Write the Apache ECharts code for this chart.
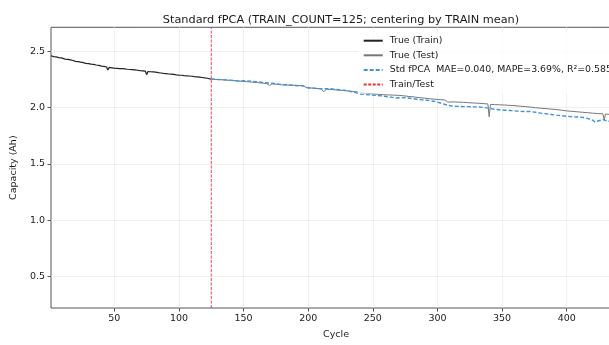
<!DOCTYPE html>
<html>
<head>
<meta charset="utf-8">
<script src="https://cdn.jsdelivr.net/npm/echarts@6/dist/echarts.min.js"></script>
<style>html,body{margin:0;padding:0;background:#fff;overflow:hidden;width:609px;height:345px}#c{width:640px;height:345px}</style>
</head>
<body>
<div id="c"></div>
<script>
const TITLE = 'Standard fPCA (TRAIN_COUNT=125; centering by TRAIN mean)';
const TRAIN_COUNT = 125;
const X_MIN = 1, X_MAX = 442;
const Y_MIN = 0.22, Y_MAX = 2.715;
const X_TICKS = [50, 100, 150, 200, 250, 300, 350, 400];
const Y_TICKS = [0.5, 1.0, 1.5, 2.0, 2.5];
const NAME_TRAIN = 'True (Train)';
const NAME_TEST = 'True (Test)';
const NAME_PRED = 'Std fPCA  MAE=0.040, MAPE=3.69%, R\u00b2=0.585';
const NAME_SPLIT = 'Train/Test';

// [cycle, capacity]
const trainData = [
 [1,2.462],[3,2.455],[5,2.452],[7,2.446],[9,2.443],[12,2.432],[14,2.430],[16,2.425],[18,2.420],[20,2.412],[22,2.410],[24,2.405],
 [26,2.401],[28,2.395],[30,2.392],[32,2.388],[34,2.386],[36,2.380],[38,2.376],[40,2.370],[42,2.367],[44,2.362],[45,2.335],[46,2.358],
 [48,2.355],[50,2.352],[52,2.350],[54,2.348],[56,2.347],[58,2.345],[60,2.342],[62,2.340],[64,2.339],[66,2.336],[68,2.333],[70,2.330],
 [72,2.328],[74,2.325],[75,2.294],[76,2.322],[78,2.320],[80,2.318],[82,2.316],[84,2.312],[86,2.309],[88,2.306],[90,2.304],[92,2.300],
 [94,2.299],[96,2.296],[98,2.292],[100,2.290],[102,2.289],[104,2.286],[106,2.284],[108,2.282],[110,2.280],[112,2.277],[114,2.275],
 [116,2.272],[118,2.269],[120,2.265],[122,2.262],[124,2.257],[125,2.255]
];
const testData = [
 [125,2.255],[128,2.252],[132,2.250],[136,2.246],[140,2.243],[144,2.240],[148,2.236],[152,2.232],[156,2.228],[160,2.224],
 [164,2.220],[168,2.214],[170,2.198],[172,2.212],[176,2.208],[180,2.203],[184,2.201],[188,2.200],[192,2.198],[196,2.195],
 [199,2.178],[202,2.176],[206,2.172],[210,2.168],[212,2.142],[214,2.165],[218,2.162],[222,2.158],[226,2.154],[230,2.150],
 [234,2.146],[238,2.140],[242,2.134],[246,2.128],[250,2.123],[254,2.120],[258,2.116],[262,2.114],[266,2.112],[270,2.110],
 [274,2.106],[278,2.100],[282,2.096],[286,2.090],[290,2.085],[294,2.080],[298,2.076],[302,2.072],[306,2.068],[308,2.050],
 [312,2.052],[316,2.050],[320,2.048],[324,2.045],[328,2.042],[332,2.040],[336,2.036],[339,2.034],[340,1.920],[341,2.030],
 [344,2.028],[348,2.026],[352,2.024],[356,2.021],[360,2.018],[364,2.014],[368,2.010],[372,2.006],[376,2.000],[380,1.996],
 [384,1.992],[388,1.988],[392,1.984],[396,1.978],[400,1.972],[404,1.968],[408,1.964],[412,1.960],[416,1.956],[420,1.952],
 [424,1.948],[428,1.946],[429,1.890],[430,1.944],[434,1.940],[438,1.936],[442,1.932]
];
const predData = [
 [125,2.255],[128,2.252],[132,2.250],[136,2.248],[140,2.244],[144,2.240],[148,2.237],[152,2.240],[156,2.236],[160,2.232],
 [164,2.226],[168,2.222],[172,2.218],[176,2.212],[180,2.206],[184,2.204],[188,2.200],[192,2.196],[196,2.195],[198,2.185],
 [200,2.176],[204,2.174],[208,2.170],[212,2.168],[216,2.170],[220,2.165],[224,2.160],[228,2.155],[232,2.146],[236,2.136],
 [240,2.122],[244,2.118],[248,2.114],[252,2.110],[256,2.106],[260,2.100],[264,2.094],[268,2.086],[272,2.090],[276,2.088],
 [280,2.082],[284,2.076],[288,2.070],[292,2.066],[296,2.060],[300,2.050],[304,2.036],[308,2.022],[312,2.014],[316,2.012],
 [320,2.010],[324,2.010],[328,2.008],[332,2.006],[336,2.002],[340,1.996],[344,1.986],[348,1.982],[352,1.978],[356,1.976],
 [360,1.972],[364,1.968],[368,1.966],[372,1.966],[376,1.960],[380,1.952],[384,1.946],[388,1.940],[392,1.934],[396,1.930],
 [400,1.924],[404,1.920],[408,1.918],[412,1.915],[416,1.905],[420,1.890],[422,1.872],[424,1.882],[428,1.894],[432,1.880],
 [436,1.882],[440,1.878],[442,1.876]
];
const splitData = [[TRAIN_COUNT, Y_MIN], [TRAIN_COUNT, Y_MAX]];

const FONT = 'DejaVu Sans';
const chart = echarts.init(document.getElementById('c'), null, {renderer: 'canvas'});
chart.setOption({
  animation: false,
  backgroundColor: '#ffffff',
  title: {
    text: TITLE, left: 336, top: 10, textAlign: 'center',
    textStyle: {fontFamily: FONT, fontSize: 11.3, fontWeight: 'normal', color: '#1a1a1a'}
  },
  legend: {
    orient: 'vertical', left: 357.7, top: 31.7,
    padding: [4, 5], itemWidth: 19, itemHeight: 10, itemGap: 4.6,
    backgroundColor: 'rgba(255,255,255,0.8)', borderWidth: 0,
    itemStyle: {opacity: 0},
    textStyle: {fontFamily: FONT, fontSize: 9.4, color: '#1a1a1a', padding: [0,0,0,2], lineHeight: 10},
    data: [NAME_TRAIN, NAME_TEST, NAME_PRED, NAME_SPLIT]
  },
  grid: {left: 51, top: 27.3, width: 570, height: 290, show: true, borderColor: '#555', borderWidth: 1, containLabel: false},
  xAxis: {
    type: 'value', min: X_MIN, max: X_MAX,
    name: 'Cycle', nameLocation: 'middle', nameGap: 22,
    nameTextStyle: {fontFamily: FONT, fontSize: 9.5, color: '#1a1a1a'},
    axisLine: {show: false},
    axisTick: {show: true, length: 3.5, lineStyle: {color: '#555'}, customValues: X_TICKS},
    axisLabel: {fontFamily: FONT, fontSize: 9.5, color: '#1a1a1a', margin: 6, customValues: X_TICKS,
      formatter: v => String(v)},
    splitLine: {show: true, lineStyle: {color: '#ebebeb', width: 0.8}}
  },
  yAxis: {
    type: 'value', min: Y_MIN, max: Y_MAX,
    name: 'Capacity (Ah)', nameLocation: 'middle', nameGap: 31, nameRotate: 90,
    nameTextStyle: {fontFamily: FONT, fontSize: 9.5, color: '#1a1a1a'},
    axisLine: {show: false},
    axisTick: {show: true, length: 3.5, lineStyle: {color: '#555'}, customValues: Y_TICKS},
    axisLabel: {fontFamily: FONT, fontSize: 9.5, color: '#1a1a1a', margin: 6, customValues: Y_TICKS,
      formatter: v => Number(v).toFixed(1)},
    splitLine: {show: true, lineStyle: {color: '#ebebeb', width: 0.8}}
  },
  series: [
    {name: NAME_TRAIN, type: 'line', data: trainData, symbol: 'none', lineStyle: {color: '#222', width: 1.2}, itemStyle: {color: '#222'}},
    {name: NAME_TEST, type: 'line', data: testData, symbol: 'none', lineStyle: {color: '#777', width: 1.0}, itemStyle: {color: '#777'}},
    {name: NAME_PRED, type: 'line', data: predData, symbol: 'none', lineStyle: {color: '#4393dc', width: 1.4, type: [4, 2]}, itemStyle: {color: '#4393dc'}},
    {name: NAME_SPLIT, type: 'line', data: splitData, symbol: 'none', lineStyle: {color: '#f03030', width: 0.9, type: [3, 1.5]}, itemStyle: {color: '#f03030'}}
  ]
});
</script>
</body>
</html>
